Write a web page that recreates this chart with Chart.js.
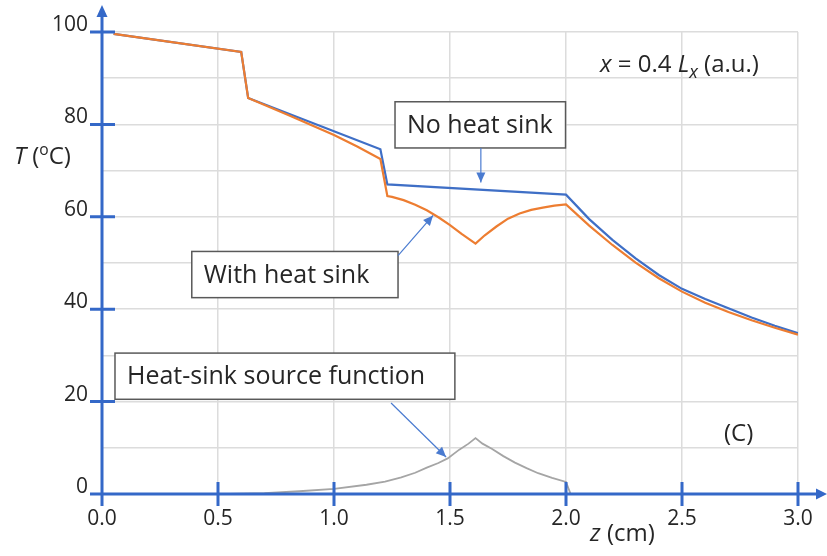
<!DOCTYPE html>
<html>
<head>
<meta charset="utf-8">
<script src="https://cdn.jsdelivr.net/npm/chart.js@4.4.1/dist/chart.umd.min.js"></script>
<style>
  html, body { margin: 0; padding: 0; background: #fff; }
  #wrap { width: 827px; height: 556px; }
</style>
</head>
<body>
<div id="wrap"><canvas id="chart"></canvas></div>
<script>
// z positions (cm) and temperatures (°C)
const zNoSink = [0.05, 0.60, 0.63, 1.20, 1.23, 2.00, 2.10, 2.20, 2.30, 2.40, 2.50, 2.60, 2.70, 2.80, 2.90, 3.00];
const tNoSink = [99.6, 95.7, 85.7, 74.6, 67.0, 64.8, 59.5, 55.0, 51.0, 47.4, 44.4, 42.2, 40.2, 38.2, 36.4, 34.8];

const zWithSink = [0.05, 0.60, 0.63, 0.80, 1.00, 1.10, 1.20, 1.23, 1.25, 1.30, 1.35, 1.40, 1.45, 1.50, 1.55, 1.61,
  1.65, 1.70, 1.75, 1.80, 1.85, 1.90, 1.95, 2.00, 2.10, 2.20, 2.30, 2.40, 2.50, 2.60, 2.70, 2.80, 2.90, 3.00];
const tWithSink = [99.6, 95.7, 85.7, 82.1, 77.7, 75.2, 72.5, 64.5, 64.3, 63.6, 62.6, 61.4, 59.9, 58.2, 56.3, 54.2,
  56.0, 57.9, 59.6, 60.7, 61.5, 62.0, 62.4, 62.7, 58.1, 53.9, 50.1, 46.7, 43.8, 41.4, 39.4, 37.6, 36.0, 34.5];

const zSource = [0.55, 0.70, 0.85, 1.00, 1.14, 1.22, 1.29, 1.35, 1.40, 1.45, 1.49, 1.54, 1.58, 1.61,
  1.64, 1.68, 1.73, 1.78, 1.83, 1.88, 1.94, 2.00, 2.02];
const sSource = [0.0, 0.2, 0.6, 1.1, 2.0, 2.7, 3.6, 4.6, 5.7, 6.7, 7.7, 9.6, 10.9, 12.1,
  10.9, 9.8, 8.2, 6.8, 5.6, 4.5, 3.5, 2.6, 0.0];

const xTicks = [0, 0.5, 1.0, 1.5, 2.0, 2.5, 3.0];
const yTicks = [0, 20, 40, 60, 80, 100];

const BLUE = '#3f6fc6';
const ORANGE = '#ed7d31';
const GRAY = '#a5a5a5';
const AXIS = '#3468c8';
const TEXT = '#262626';
const FONT = '"Open Sans", "DejaVu Sans", sans-serif';

const pts = (xs, ys) => xs.map((v, i) => ({ x: v, y: ys[i] }));

// callout boxes, in data units: box corners, arrow start, arrow tip
const notes = [
  { text: 'No heat sink', box: [1.263, 84.9, 1.998, 74.9], from: [1.633, 74.9], to: [1.633, 67.4] },
  { text: 'With heat sink', box: [0.387, 52.5, 1.276, 42.5], from: [1.276, 51.6], to: [1.427, 60.3] },
  { text: 'Heat-sink source function', box: [0.056, 30.5, 1.521, 20.5], from: [1.246, 19.7], to: [1.483, 8.0] }
];

function arrowHead(ctx, x1, y1, x2, y2, len, half) {
  const a = Math.atan2(y2 - y1, x2 - x1);
  ctx.beginPath();
  ctx.moveTo(x2, y2);
  ctx.lineTo(x2 - len * Math.cos(a) + half * Math.sin(a), y2 - len * Math.sin(a) - half * Math.cos(a));
  ctx.lineTo(x2 - len * Math.cos(a) - half * Math.sin(a), y2 - len * Math.sin(a) + half * Math.cos(a));
  ctx.closePath();
  ctx.fill();
}

// draws runs of [text, italic, shift] left to right
function richText(ctx, parts, x, y, size) {
  let cx = x;
  parts.forEach(([t, it, shift, scale]) => {
    const s = size * (scale || 1);
    ctx.font = (it ? 'italic ' : '') + s + 'px ' + FONT;
    ctx.fillText(t, cx, y + (shift || 0));
    cx += ctx.measureText(t).width;
  });
}

const decor = {
  id: 'decor',
  afterDraw(chart) {
    const { ctx, scales: { x, y } } = chart;
    const x0 = x.getPixelForValue(0), y0 = y.getPixelForValue(0);
    ctx.save();

    // blue axes with crossing ticks and arrows
    ctx.strokeStyle = AXIS;
    ctx.fillStyle = AXIS;
    ctx.lineWidth = 3;
    ctx.beginPath();
    ctx.moveTo(x0, y0 + 12); ctx.lineTo(x0, 14);
    ctx.moveTo(x0 - 12, y0); ctx.lineTo(818, y0);
    yTicks.forEach(v => {
      const py = y.getPixelForValue(v);
      ctx.moveTo(x0 - 12, py); ctx.lineTo(x0 + 13, py);
    });
    xTicks.forEach(v => {
      const px = x.getPixelForValue(v);
      ctx.moveTo(px, y0 - 12); ctx.lineTo(px, y0 + 12);
    });
    ctx.stroke();
    arrowHead(ctx, x0, 40, x0, 5, 12, 5.5);
    arrowHead(ctx, 800, y0, 827, y0, 11, 5.5);

    // callouts
    notes.forEach(n => {
      const bx0 = x.getPixelForValue(n.box[0]), by0 = y.getPixelForValue(n.box[1]);
      const bx1 = x.getPixelForValue(n.box[2]), by1 = y.getPixelForValue(n.box[3]);
      ctx.fillStyle = '#fff';
      ctx.fillRect(bx0, by0, bx1 - bx0, by1 - by0);
      ctx.strokeStyle = '#595959';
      ctx.lineWidth = 1.5;
      ctx.strokeRect(bx0, by0, bx1 - bx0, by1 - by0);
      ctx.fillStyle = TEXT;
      ctx.font = '25px ' + FONT;
      ctx.textBaseline = 'middle';
      ctx.fillText(n.text, bx0 + 12, (by0 + by1) / 2 + 1);

      const ax = x.getPixelForValue(n.from[0]), ay = y.getPixelForValue(n.from[1]);
      const tx = x.getPixelForValue(n.to[0]), ty = y.getPixelForValue(n.to[1]);
      ctx.strokeStyle = '#4a7bd0';
      ctx.fillStyle = '#4a7bd0';
      ctx.lineWidth = 1.2;
      ctx.beginPath();
      ctx.moveTo(ax, ay); ctx.lineTo(tx, ty);
      ctx.stroke();
      arrowHead(ctx, ax, ay, tx, ty, 10, 4.5);
    });

    // axis titles and panel texts
    ctx.fillStyle = TEXT;
    ctx.textBaseline = 'alphabetic';
    richText(ctx, [['T', true], [' (', false], ['o', false, -9, 0.65], ['C)', false]], 14, 164, 24);
    richText(ctx, [['z', true], [' (cm)', false]], 590, 541, 24);
    richText(ctx, [['x', true], [' = 0.4 ', false], ['L', true], ['x', true, 6, 0.75], [' (a.u.)', false]], 600, 72, 24);
    richText(ctx, [['(C)', false]], 724, 441, 24);
    ctx.restore();
  }
};

new Chart(document.getElementById('chart'), {
  type: 'scatter',
  data: {
    datasets: [
      {
        label: 'With heat sink',
        data: pts(zWithSink, tWithSink),
        borderColor: ORANGE,
        borderWidth: 2.2,
        order: 1
      },
      {
        label: 'No heat sink',
        data: pts(zNoSink, tNoSink),
        borderColor: BLUE,
        borderWidth: 2.2,
        order: 2
      },
      {
        label: 'Heat-sink source function',
        data: pts(zSource, sSource),
        borderColor: GRAY,
        borderWidth: 1.8,
        order: 3
      }
    ]
  },
  options: {
    responsive: true,
    maintainAspectRatio: false,
    animation: false,
    showLine: true,
    elements: {
      point: { radius: 0, hoverRadius: 0 },
      line: { tension: 0, fill: false }
    },
    layout: { padding: { top: 32, right: 29, left: 0, bottom: 0 } },
    plugins: {
      legend: { display: false },
      tooltip: { enabled: false }
    },
    scales: {
      x: {
        type: 'linear',
        min: 0,
        max: 3,
        afterFit: s => { s.height = 62; },
        afterBuildTicks: s => { s.ticks = xTicks.map(v => ({ value: v })); },
        ticks: {
          callback: v => v.toFixed(1),
          color: TEXT,
          font: { family: FONT, size: 21 },
          padding: 12,
          maxRotation: 0
        },
        grid: { color: '#dcdcdc', lineWidth: 1.5, drawTicks: false },
        border: { display: false }
      },
      y: {
        min: 0,
        max: 100,
        afterFit: s => { s.width = 102; },
        ticks: {
          stepSize: 10,
          autoSkip: false,
          callback: v => (v % 20 === 0 ? String(v) : ''),
          color: TEXT,
          font: { family: FONT, size: 21 },
          padding: 14,
          labelOffset: -7
        },
        grid: { color: '#dcdcdc', lineWidth: 1.5, drawTicks: false },
        border: { display: false }
      }
    }
  },
  plugins: [decor]
});
</script>
</body>
</html>
